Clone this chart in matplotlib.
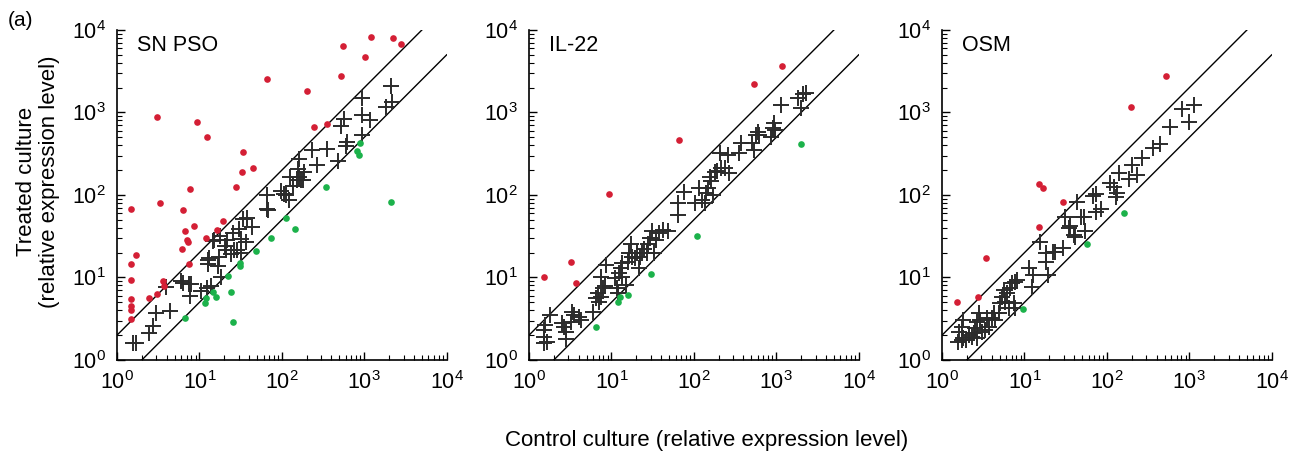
import numpy as np
import matplotlib
matplotlib.use("Agg")
import matplotlib.pyplot as plt
from matplotlib.ticker import LogLocator, NullFormatter

plt.rcParams['font.family'] = ['Liberation Sans', 'DejaVu Sans']

# values, stored as log10 exponents
panel_titles = ["SN PSO", "IL-22", "OSM"]

# --- SN PSO ---
sn_red_lx = [.173, .173, .173, .173, .173, .173, .173, .226, .383, .484, .480, .520, .552, .569,
             .786, .806, .819, .847, .859, .871, .883, .931, .972, 1.085, 1.093, 1.214, 1.282,
             1.440, 1.512, 1.524, 1.653, 1.815, 2.310, 2.395, 2.552, 2.718, 2.738, 3.004, 3.085,
             3.347, 3.444]
sn_red_ly = [1.835, 1.169, .968, .734, .653, .605, .492, 1.278, .746, .798, 2.948, 1.907, .960, .899,
             1.343, 1.823, 1.56, 1.45, 1.43, 1.169, 2.069, 1.621, 2.883, 1.484, 2.698, 1.581, 1.690,
             2.097, 2.278, 2.516, 2.323, 3.403, 3.262, 2.819, 2.859, 3.448, 3.802, 3.669, 3.919,
             3.899, 3.831]
sn_green_lx = [.823, 1.073, 1.081, 1.161, 1.202, 1.343, 1.383, 1.411, 1.488, 1.496, 1.681, 1.871,
               2.048, 2.157, 2.536, 2.907, 2.931, 2.952, 3.327]
sn_green_ly = [.504, .685, .746, .827, .758, 1.016, .819, .460, 1.177, 1.141, 1.323, 1.480,
               1.726, 1.585, 2.097, 2.528, 2.48, 2.629, 1.915]
sn_cross_lx = [.194, .226, .383, .435, .468, .637, .597, .782, .806, .883, .879, .903, 1.024, 1.089,
               1.145, 1.101, 1.105, 1.113, 1.222, 1.242, 1.266, 1.161, 1.181, 1.250, 1.315, 1.323,
               1.331, 1.383, 1.403, 1.423, 1.460, 1.484, 1.504, 1.504, 1.524, 1.565, 1.581, 1.637,
               1.819, 1.815, 1.835, 1.988, 2.032, 2.056, 2.089, 2.101, 2.137, 2.181, 2.198, 2.210,
               2.210, 2.230, 2.266, 2.258, 2.363, 2.427, 2.544, 2.685, 2.714, 2.754, 2.774, 2.794,
               2.968, 2.976, 2.976, 3.069, 3.258, 3.319, 3.339]
sn_cross_ly = [.202, .202, .331, .411, .565, .597, .887, .960, .935, .774, .927, .927, .839, .867,
               .895, 1.218, 1.169, 1.242, 1.137, 1.25, 1.008, 1.444, 1.452, 1.5, 1.379, 1.331,
               1.452, 1.290, 1.544, 1.331, 1.331, 1.593, 1.464, 1.298, 1.714, 1.431, 1.722, 1.613,
               2.000, 1.835, 1.823, 2.044, 2.016, 2.004, 1.935, 2.218, 2.109, 2.185, 2.319, 2.44,
               2.218, 2.177, 2.278, 2.185, 2.548, 2.359, 2.560, 2.411, 2.831, 2.919, 2.589, 2.641,
               3.173, 2.972, 2.722, 2.911, 3.065, 3.327, 3.129]

# --- IL-22 ---
il_red_lx = [.185, .510, .576, .975, 1.815, 2.728, 3.070]
il_red_ly = [1.010, 1.188, .929, 2.008, 2.663, 3.345, 3.568]
il_green_lx = [.815, 1.082, 1.103, 1.198, 1.481, 2.041, 3.305]
il_green_ly = [.396, .707, .768, .788, 1.042, 1.503, 2.614]
il_cross_lx = [.185, .218, .185, .177, .198, .259, .403, .424, .444, .444, .527, .506, .547, .609,
               .630, .774, .815, .835, .844, .868, .897, .877, .918, .938, 1.041, 1.062, 1.082,
               1.091, 1.115, 1.123, 1.132, 1.173, 1.198, 1.214, 1.239, 1.255, 1.288, 1.309, 1.329,
               1.350, 1.370, 1.391, 1.432, 1.444, 1.473, 1.494, 1.514, 1.535, 1.576, 1.626, 1.691,
               1.802, 1.802, 1.885, 2.008, 2.062, 2.103, 2.132, 2.144, 2.173, 2.193, 2.206, 2.235,
               2.255, 2.284, 2.317, 2.329, 2.379, 2.428, 2.420, 2.543, 2.572, 2.700, 2.728, 2.749,
               2.782, 2.790, 2.934, 2.955, 2.967, 2.988, 3.058, 3.263, 3.305, 3.325, 3.358]
il_cross_ly = [.202, .222, .275, .364, .424, .545, .444, .404, .343, .250, .586, .465, .545, .525,
               .485, .586, .747, .808, .707, .768, .869, 1.010, .897, 1.151, .990, .869, .808,
               1.051, 1.111, 1.180, 1.010, .909, 1.192, 1.293, 1.406, 1.244, 1.232, 1.293, 1.111,
               1.244, 1.293, 1.341, 1.293, 1.406, 1.475, 1.568, 1.293, 1.455, 1.535, 1.576, 1.568,
               1.758, 1.899, 2.040, 1.907, 2.081, 1.939, 1.899, 2.020, 2.081, 2.222, 2.174, 2.000,
               2.283, 2.295, 2.513, 2.331, 2.323, 2.263, 2.485, 2.513, 2.634, 2.626, 2.545, 2.727,
               2.768, 2.727, 2.707, 2.808, 2.869, 2.788, 3.091, 3.172, 3.051, 3.224, 3.240]

# --- OSM ---
osm_red_lx = [.179, .435, .528, 1.179, 1.179, 1.228, 1.463, 2.297, 2.720]
osm_red_ly = [.707, .768, 1.240, 1.608, 2.133, 2.085, 1.911, 3.063, 3.438]
osm_green_lx = [.988, 1.760, 2.207]
osm_green_ly = [.614, 1.406, 1.786]
osm_cross_lx = [.199, .240, .260, .293, .211, .240, .260, .321, .362, .382, .423, .402, .423, .443,
                .463, .484, .524, .545, .565, .606, .626, .646, .687, .707, .728, .748, .768, .789,
                .829, .850, .890, .911, .809, .870, .890, 1.049, 1.102, 1.089, 1.183, 1.264, 1.264,
                1.280, 1.346, 1.374, 1.467, 1.496, 1.537, 1.557, 1.598, 1.618, 1.638, 1.687, 1.720,
                1.740, 1.833, 1.862, 1.862, 1.923, 2.037, 2.085, 2.106, 2.126, 2.146, 2.268, 2.309,
                2.362, 2.431, 2.565, 2.646, 2.768, 2.911, 3.000, 3.061]
osm_cross_ly = [.222, .242, .263, .242, .343, .404, .485, .303, .275, .323, .263, .384, .465, .566,
                .485, .343, .364, .505, .404, .505, .566, .485, .566, .687, .768, .848, .707, .808,
                .869, .929, .949, .970, .626, .687, .626, 1.111, 1.030, .889, 1.434, 1.293, 1.192,
                1.030, 1.313, 1.313, 1.354, 1.737, 1.596, 1.624, 1.515, 1.495, 1.919, 1.729, 1.737,
                1.568, 1.988, 2.012, 1.798, 1.826, 2.141, 2.101, 1.980, 2.020, 2.263, 2.190, 2.364,
                2.242, 2.444, 2.566, 2.618, 2.820, 3.038, 2.889, 3.091]

panels = [
    (sn_red_lx, sn_red_ly, sn_green_lx, sn_green_ly, sn_cross_lx, sn_cross_ly),
    (il_red_lx, il_red_ly, il_green_lx, il_green_ly, il_cross_lx, il_cross_ly),
    (osm_red_lx, osm_red_ly, osm_green_lx, osm_green_ly, osm_cross_lx, osm_cross_ly),
]

RED = "#d41f35"
GREEN = "#1cb24b"
CROSS = "#2b2b2b"

fig = plt.figure(figsize=(13.03, 4.58), dpi=100)
lefts = [0.0898, 0.406, 0.723]
for i, (title, data) in enumerate(zip(panel_titles, panels)):
    ax = fig.add_axes([lefts[i], 0.214, 0.253, 0.7205])
    rx, ry, gx, gy, cx, cy = data
    ax.plot(np.power(10.0, cx), np.power(10.0, cy), ls="none", marker="+", ms=11,
            mew=1.4, color=CROSS, zorder=3)
    ax.plot(np.power(10.0, rx), np.power(10.0, ry), ls="none", marker="o", ms=4.8,
            mew=0, color=RED, zorder=4)
    ax.plot(np.power(10.0, gx), np.power(10.0, gy), ls="none", marker="o", ms=4.8,
            mew=0, color=GREEN, zorder=4)
    # two-fold boundaries
    ax.plot([1, 5000], [2, 1e4], color="black", lw=1, zorder=2)
    ax.plot([2, 1e4], [1, 5000], color="black", lw=1, zorder=2)

    ax.set_xscale("log")
    ax.set_yscale("log")
    ax.set_xlim(1, 1e4)
    ax.set_ylim(1, 1e4)
    for s in ("top", "right"):
        ax.spines[s].set_visible(False)
    for s in ("left", "bottom"):
        ax.spines[s].set_linewidth(1.2)
    ax.xaxis.set_major_locator(LogLocator(base=10, numticks=10))
    ax.yaxis.set_major_locator(LogLocator(base=10, numticks=10))
    ax.xaxis.set_minor_locator(LogLocator(base=10, subs=np.arange(2, 10), numticks=10))
    ax.yaxis.set_minor_locator(LogLocator(base=10, subs=np.arange(2, 10), numticks=10))
    ax.xaxis.set_minor_formatter(NullFormatter())
    ax.yaxis.set_minor_formatter(NullFormatter())
    ax.tick_params(which="major", direction="in", length=6, width=1, labelsize=15.5, pad=8)
    ax.tick_params(which="minor", direction="in", length=3.5, width=0.8)
    ax.text(0.06, 0.985, title, transform=ax.transAxes, fontsize=15.5, va="top", ha="left")

fig.text(0.006, 0.975, "(a)", fontsize=15, va="top", ha="left")
fig.text(0.542, 0.039, "Control culture (relative expression level)", fontsize=16,
         ha="center", va="center")
fig.text(0.029, 0.603, "Treated culture\n(relative expression level)", fontsize=16,
         rotation=90, ha="center", va="center", linespacing=1.1)

fig.savefig("out.png", dpi=100)
